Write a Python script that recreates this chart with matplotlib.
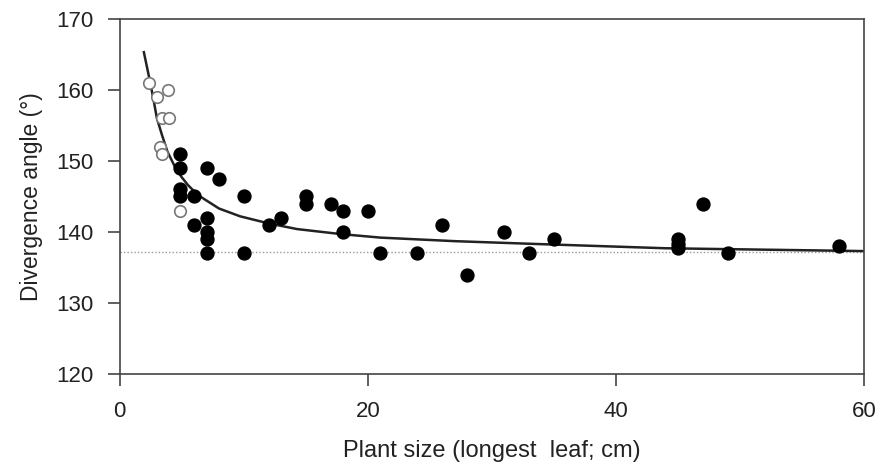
import matplotlib.pyplot as plt

plt.rcParams['font.family'] = ['Liberation Sans', 'DejaVu Sans']

# open circles (small plants)
open_x = [2.4, 3.9, 3.0, 3.45, 3.95, 3.25, 3.45, 4.85]
open_y = [161, 160, 159, 156, 156, 152, 151, 143]

# filled circles
fill_x = [4.9, 4.9, 4.9, 4.9, 6, 7, 8, 10, 6, 7, 7, 7, 7, 10, 12, 13,
          15, 15, 17, 18, 18, 20, 21, 24, 26, 28, 31, 33, 35, 45, 45, 45,
          47, 49, 58]
fill_y = [151, 149, 146, 145, 145, 149, 147.5, 145, 141, 142, 140, 139, 137, 137, 141, 142,
          145, 144, 144, 143, 140, 143, 137, 137, 141, 134, 140, 137, 139, 139, 138.3, 137.7,
          144, 137, 138]

# fitted curve
curve_x = [1.95, 2.5, 2.75, 3.0, 3.4, 3.85, 4.5, 5.0, 5.5, 6.3, 8.0, 9.7,
           12, 14.3, 17.8, 21, 27, 33.6, 44, 52, 60]
curve_y = [165.3, 160.7, 158.4, 156.0, 153.7, 151.3, 149.0, 147.7, 146.6, 145.2, 143.3, 142.2,
           141.2, 140.4, 139.7, 139.2, 138.7, 138.3, 137.7, 137.5, 137.3]

golden = 137.2

fig = plt.figure(figsize=(8.8, 4.71), dpi=100)
ax = fig.add_axes([0.136, 0.206, 0.846, 0.754])

ax.axhline(golden, color='#999999', lw=1, ls=(0, (1, 1.5)), zorder=1)
ax.plot(curve_x, curve_y, color='#222222', lw=1.8, zorder=2)
ax.plot(fill_x, fill_y, 'o', color='black', ms=9.3, zorder=3)
ax.plot(open_x, open_y, 'o', mfc='white', mec='#777777', mew=1.2, ms=8.3, zorder=4)

ax.set_xlim(0, 60)
ax.set_ylim(120, 170)
ax.set_xticks([0, 20, 40, 60])
ax.set_yticks([120, 130, 140, 150, 160, 170])

for s in ax.spines.values():
    s.set_color('#444444')
    s.set_linewidth(1.2)

ax.tick_params(axis='y', direction='out', length=8.5, width=1.2, color='#444444',
               labelsize=16, labelcolor='#222222', pad=10)
ax.tick_params(axis='x', direction='out', length=8.5, width=1.2, color='#444444',
               labelsize=16, labelcolor='#222222', pad=11)

ax.set_xlabel('Plant size (longest  leaf; cm)', fontsize=17, color='#222222', labelpad=13)
ax.set_ylabel('Divergence angle (°)', fontsize=16.5, color='#222222', labelpad=10)

fig.savefig('out.png', dpi=100)
